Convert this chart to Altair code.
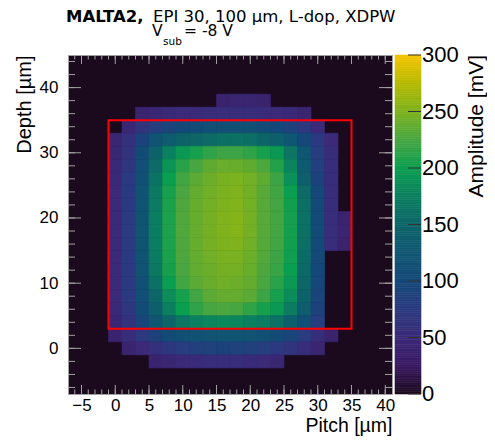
import altair as alt
import pandas as pd

# ---------------- data ----------------
# bin centres (2 um bins)
pitch_centers = [0, 2, 4, 6, 8, 10, 12, 14, 16, 18, 20, 22, 24, 26, 28, 30, 32, 34]
depth_centers = [38, 36, 34, 32, 30, 28, 26, 24, 22, 20, 18, 16, 14, 12, 10, 8, 6, 4, 2, 0, -2]

# amplitude [mV] per row (top -> bottom), columns follow pitch_centers
amp_d38 = [0, 0, 0, 0, 0, 0, 0, 0, 38, 42, 42, 38, 0, 0, 0, 0, 0, 0]
amp_d36 = [0, 0, 40, 45, 48, 50, 52, 55, 55, 55, 55, 52, 50, 48, 42, 0, 0, 0]
amp_d34 = [0, 45, 65, 80, 92, 100, 105, 110, 115, 115, 112, 108, 100, 88, 72, 50, 0, 0]
amp_d32 = [45, 60, 90, 120, 135, 145, 150, 155, 160, 160, 158, 150, 140, 125, 100, 75, 50, 0]
amp_d30 = [45, 65, 105, 145, 175, 195, 205, 215, 220, 220, 215, 205, 195, 165, 125, 80, 55, 0]
amp_d28 = [48, 70, 110, 155, 192, 212, 225, 236, 240, 240, 236, 227, 210, 178, 132, 85, 55, 0]
amp_d26 = [48, 75, 115, 162, 200, 222, 234, 242, 247, 249, 245, 236, 220, 188, 138, 90, 55, 0]
amp_d24 = [50, 75, 120, 168, 205, 226, 238, 244, 249, 251, 244, 232, 222, 200, 155, 100, 55, 0]
amp_d22 = [50, 75, 122, 170, 207, 228, 239, 245, 250, 252, 245, 232, 223, 203, 158, 103, 55, 0]
amp_d20 = [50, 76, 124, 172, 208, 229, 239, 246, 251, 253, 246, 232, 223, 204, 160, 105, 55, 40]
amp_d18 = [50, 76, 124, 172, 208, 229, 239, 246, 251, 253, 246, 232, 223, 204, 160, 105, 55, 42]
amp_d16 = [50, 76, 123, 172, 208, 228, 239, 246, 250, 251, 244, 231, 222, 203, 158, 104, 55, 38]
amp_d14 = [50, 75, 122, 170, 207, 228, 238, 244, 248, 248, 242, 230, 220, 202, 156, 102, 0, 0]
amp_d12 = [50, 75, 120, 168, 205, 226, 237, 242, 246, 246, 240, 228, 218, 200, 154, 100, 0, 0]
amp_d10 = [50, 75, 115, 160, 200, 222, 234, 240, 244, 242, 238, 226, 213, 195, 150, 98, 0, 0]
amp_d8 = [50, 75, 110, 150, 185, 205, 222, 234, 238, 238, 234, 220, 205, 185, 145, 95, 0, 0]
amp_d6 = [48, 70, 105, 140, 175, 200, 215, 225, 228, 225, 215, 205, 195, 170, 135, 90, 0, 0]
amp_d4 = [45, 65, 95, 125, 150, 165, 175, 180, 182, 180, 175, 170, 160, 140, 115, 80, 0, 0]
amp_d2 = [40, 55, 72, 90, 105, 112, 118, 120, 122, 122, 120, 115, 108, 95, 78, 58, 40, 0]
amp_d0 = [0, 40, 50, 60, 70, 78, 84, 88, 90, 88, 86, 82, 75, 65, 55, 42, 0, 0]
amp_dm2 = [0, 0, 0, 40, 45, 50, 52, 55, 55, 55, 52, 50, 45, 0, 0, 0, 0, 0]

amplitude_rows = [amp_d38, amp_d36, amp_d34, amp_d32, amp_d30, amp_d28, amp_d26,
                  amp_d24, amp_d22, amp_d20, amp_d18, amp_d16, amp_d14, amp_d12,
                  amp_d10, amp_d8, amp_d6, amp_d4, amp_d2, amp_d0, amp_dm2]

bin_width = 2
x_range = [-7, 41]
y_range = [-7, 45]
z_range = [0, 300]

box_pitch = [-1, 35]
box_depth = [3, 35]

x_major_ticks = [-5, 0, 5, 10, 15, 20, 25, 30, 35, 40]
x_minor_ticks = list(range(-6, 41))
y_major_ticks = [0, 10, 20, 30, 40]
y_minor_ticks = list(range(-6, 45, 2))
z_ticks = [0, 50, 100, 150, 200, 250, 300]

cmap_levels = [0, 25, 50, 75, 100, 125, 150, 175, 200, 225, 250, 275, 300]
cmap_colors = ["#1b0a1d", "#3a1962", "#3a2a78", "#2b3a80", "#144878", "#0f5672",
               "#0d6568", "#0b8060", "#0a9e50", "#48a642", "#7db21e", "#b5ba00", "#f6c400"]

title_bold = "MALTA2,"
title_rest = "EPI 30, 100 µm, L-dop, XDPW"
sub_v = "V"
sub_sub = "sub"
sub_rest = "= -8 V"
x_title = "Pitch [µm]"
y_title = "Depth [µm]"
z_title = "Amplitude [mV]"

# ---------------- chart ----------------
W, H = 324, 339
FONT = "Liberation Sans"
TFONT = "DejaVu Sans"
FRAME = "#a0a0a0"

recs = []
for d, vals in zip(depth_centers, amplitude_rows):
    for p, v in zip(pitch_centers, vals):
        if v > 0:
            recs.append({"x": p - bin_width / 2, "x2": p + bin_width / 2,
                         "y": d - bin_width / 2, "y2": d + bin_width / 2, "amp": v})
heat_df = pd.DataFrame(recs)

xs = alt.Scale(domain=x_range, nice=False, zero=False)
ys = alt.Scale(domain=y_range, nice=False, zero=False)
zs = alt.Scale(domain=z_range, nice=False, zero=False)
cs = alt.Scale(domain=cmap_levels, range=cmap_colors, interpolate="rgb")

x_axis = alt.Axis(values=x_major_ticks, title=x_title, ticks=False, domain=False, grid=False,
                  labelFontSize=17, labelColor="black", labelPadding=3, labelFlush=False,
                  labelOverlap=False, titleFontSize=19.5, titleFontWeight="normal",
                  titleColor="black", titleAnchor="end", titleY=37,
                  titleBaseline="alphabetic")
y_axis = alt.Axis(values=y_major_ticks, title=y_title, ticks=False, domain=False, grid=False,
                  labelFontSize=17, labelColor="black", labelPadding=10, labelFlush=False,
                  labelOverlap=False, titleFontSize=20, titleFontWeight="normal",
                  titleColor="black", titleAnchor="end", titleX=-38,
                  titleBaseline="alphabetic")

heat = alt.Chart(heat_df).mark_rect(strokeWidth=0.6).encode(
    x=alt.X("x:Q", scale=xs, axis=x_axis),
    x2="x2:Q",
    y=alt.Y("y:Q", scale=ys, axis=y_axis),
    y2="y2:Q",
    color=alt.Color("amp:Q", scale=cs, legend=None),
    stroke=alt.Stroke("amp:Q", scale=cs, legend=None),
)

box_df = pd.DataFrame({"x": [box_pitch[0]], "x2": [box_pitch[1]],
                       "y": [box_depth[0]], "y2": [box_depth[1]]})
box = alt.Chart(box_df).mark_rect(fillOpacity=0, stroke="#ff0000", strokeWidth=2).encode(
    x=alt.X("x:Q", scale=xs, axis=x_axis), x2="x2:Q",
    y=alt.Y("y:Q", scale=ys, axis=y_axis), y2="y2:Q",
)


def xticks(vals, y0, y1):
    return alt.Chart(pd.DataFrame({"x": vals})).mark_rule(color=FRAME, strokeWidth=1).encode(
        x=alt.X("x:Q", scale=xs, axis=x_axis), y=alt.value(y0), y2=alt.value(y1))


def yticks(vals, x0, x1):
    return alt.Chart(pd.DataFrame({"y": vals})).mark_rule(color=FRAME, strokeWidth=1).encode(
        y=alt.Y("y:Q", scale=ys, axis=y_axis), x=alt.value(x0), x2=alt.value(x1))


ticks = [
    xticks(x_major_ticks, H, H - 9), xticks(x_major_ticks, 0, 9),
    xticks(x_minor_ticks, H, H - 4.5), xticks(x_minor_ticks, 0, 4.5),
    yticks(y_major_ticks, 0, 13), yticks(y_major_ticks, W, W - 13),
    yticks(y_minor_ticks, 0, 7), yticks(y_minor_ticks, W, W - 7),
]

main = alt.layer(heat, box, *ticks)

# colour bar
lv = list(range(z_range[0], z_range[1], 2))
cbar_df = pd.DataFrame({"lo": lv, "hi": [v + 2 for v in lv], "mid": [v + 1 for v in lv]})
cbar = alt.Chart(cbar_df).mark_rect(strokeWidth=0.6).encode(
    x=alt.value(W + 3), x2=alt.value(W + 29),
    y=alt.Y("lo:Q", scale=zs, axis=None), y2="hi:Q",
    color=alt.Color("mid:Q", scale=cs, legend=None),
    stroke=alt.Stroke("mid:Q", scale=cs, legend=None),
)
zt_df = pd.DataFrame({"lo": z_ticks, "lab": [str(v) for v in z_ticks]})
cbar_ticks = alt.Chart(zt_df).mark_rule(color="#333333", strokeWidth=1).encode(
    y=alt.Y("lo:Q", scale=zs, axis=None), x=alt.value(W + 16), x2=alt.value(W + 29))
cbar_labels = alt.Chart(zt_df).mark_text(fontSize=22, align="left", baseline="middle",
                                         color="black", font=FONT).encode(
    y=alt.Y("lo:Q", scale=zs, axis=None), x=alt.value(W + 30), text="lab:N")
cbar_layer = alt.layer(cbar, cbar_ticks, cbar_labels)


def label(txt, x, y, size, weight="normal", align="left", angle=0, font=FONT):
    return alt.Chart(pd.DataFrame({"t": [txt]})).mark_text(
        fontSize=size, fontWeight=weight, align=align, baseline="alphabetic", angle=angle,
        color="black", font=font).encode(x=alt.value(x), y=alt.value(y), text="t:N")


texts = [
    label(title_bold, -2, -33.5, 16.5, weight="bold", font=TFONT),
    label(title_rest, 85, -33.5, 16.5, font=TFONT),
    label(sub_v, 84, -19.5, 15.5, font=TFONT),
    label(sub_sub, 95, -10, 10.5, font=TFONT),
    label(sub_rest, 116, -19.5, 15.5, font=TFONT),
    label(z_title, W + 91, 0, 21, align="right", angle=270),
]

chart = alt.layer(main, cbar_layer, *texts).resolve_scale(
    y="independent"
).properties(
    width=W, height=H,
    autosize=alt.AutoSizeParams(type="none"),
    padding={"left": 60, "top": 47, "right": 95, "bottom": 44},
).configure(font=FONT).configure_axis(labelOverlap=False, labelFlush=False).configure_view(
    fill="#1b0a1d", stroke=FRAME, strokeWidth=1)

chart.save("out.html", embed_options={"renderer": "svg", "actions": False})
